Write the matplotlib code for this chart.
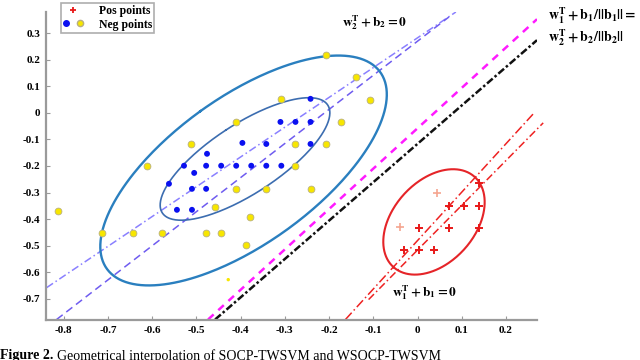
import numpy as np
import matplotlib
matplotlib.use("Agg")
import matplotlib.pyplot as plt
from matplotlib.lines import Line2D
from matplotlib.legend_handler import HandlerTuple

plt.rcParams['font.family'] = ['Liberation Serif', 'DejaVu Serif']
plt.rcParams['mathtext.fontset'] = 'stix'

# negative class (blue) points
neg_blue_x = [-0.242, -0.310, -0.276, -0.242, -0.396, -0.342, -0.242, -0.476,
              -0.528, -0.478, -0.444, -0.410, -0.376, -0.342, -0.308, -0.505,
              -0.562, -0.510, -0.478, -0.544, -0.510]
neg_blue_y = [0.053, -0.034, -0.034, -0.034, -0.113, -0.117, -0.117, -0.154,
              -0.199, -0.199, -0.199, -0.199, -0.199, -0.199, -0.199, -0.226,
              -0.267, -0.286, -0.286, -0.365, -0.365]

# negative class (yellow) points
neg_yel_x = [-0.208, -0.140, -0.108, -0.308, -0.174, -0.410, -0.208, -0.512,
             -0.276, -0.612, -0.276, -0.410, -0.342, -0.242, -0.458, -0.378,
             -0.814, -0.714, -0.644, -0.578, -0.478, -0.444, -0.387]
neg_yel_y = [0.218, 0.135, 0.049, 0.053, -0.034, -0.034, -0.117, -0.117,
             -0.117, -0.199, -0.199, -0.286, -0.286, -0.286, -0.353, -0.391,
             -0.368, -0.451, -0.451, -0.451, -0.451, -0.451, -0.496]
neg_small_x = [-0.428]
neg_small_y = [-0.628]

# positive class points
pos_x = [0.071, 0.105, 0.139, 0.139, 0.003, 0.071, 0.139, -0.031, 0.003, 0.037]
pos_y = [-0.350, -0.350, -0.350, -0.263, -0.432, -0.432, -0.432, -0.515, -0.515, -0.515]
pos_light_x = [0.044, -0.040]
pos_light_y = [-0.301, -0.429]

# ellipses: centre and two half-axis vectors
big_c, big_a, big_b = (-0.3934, -0.2169), (-0.0976, 0.2234), (-0.3088, -0.3708)
inner_c, inner_a, inner_b = (-0.3901, -0.1735), (-0.0431, 0.1090), (-0.1869, -0.2033)
red_c, red_a, red_b = (0.0371, -0.4106), (-0.0915, -0.1703), (-0.0690, 0.1019)

# hyperplanes (x0, y0, x1, y1)
blue_dashdot = (-0.8385, -0.658, 0.0866, 0.380)
blue_dashed = (-0.816, -0.778, 0.0707, 0.361)
magenta_line = (-0.4735, -0.778, 0.270, 0.353)
black_line = (-0.4576, -0.778, 0.270, 0.274)
red_line1 = (-0.163, -0.778, 0.2635, 0.0)
red_line2 = (-0.1107, -0.703, 0.284, -0.0376)

xticks = [-0.8, -0.7, -0.6, -0.5, -0.4, -0.3, -0.2, -0.1, 0, 0.1, 0.2]
yticks = [-0.7, -0.6, -0.5, -0.4, -0.3, -0.2, -0.1, 0, 0.1, 0.2, 0.3]


def ellipse(c, a, b):
    t = np.linspace(0, 2 * np.pi, 300)
    return c[0] + a[0] * np.cos(t) + b[0] * np.sin(t), c[1] + a[1] * np.cos(t) + b[1] * np.sin(t)


fig = plt.figure(figsize=(6.4, 3.6), dpi=100)
ax = fig.add_axes([46 / 640, 1 - 320 / 360, 491 / 640, 308 / 360])
ax.set_xlim(-0.84, 0.27)
ax.set_ylim(-0.78, 0.38)


def seg(l, **kw):
    ax.plot([l[0], l[2]], [l[1], l[3]], **kw)


seg(blue_dashdot, color='#8a80ff', lw=1.1, ls=(0, (5, 2, 1, 2)))
seg(blue_dashed, color='#6f5cf0', lw=1.1, ls=(0, (5, 3)))
seg(magenta_line, color='#ff1aff', lw=1.8, ls=(0, (3, 2.5)))
seg(black_line, color='#111111', lw=1.8, ls=(0, (3, 1, 1, 1)))
seg(red_line1, color='#ee2222', lw=1.1, ls=(0, (6, 2, 1, 2)))
seg(red_line2, color='#ee2222', lw=1.1, ls=(0, (5, 2, 1, 2)), clip_on=False)

ax.plot(*ellipse(big_c, big_a, big_b), color='#2a7fbf', lw=1.7)
ax.plot(*ellipse(inner_c, inner_a, inner_b), color='#3c6db0', lw=1.2)
ax.plot(*ellipse(red_c, red_a, red_b), color='#e52428', lw=1.5)

ax.scatter(neg_yel_x, neg_yel_y, s=24, c='#f7e600', edgecolors='#b8b080', linewidths=0.6, zorder=3)
ax.scatter(neg_small_x, neg_small_y, s=6, c='#f7e600', edgecolors='none', zorder=3)
ax.scatter(neg_blue_x, neg_blue_y, s=18, c='#0a10f0', edgecolors='none', zorder=3)
ax.scatter(pos_x, pos_y, s=30, marker='+', c='#e81818', linewidths=1.4, zorder=3)
ax.scatter(pos_light_x, pos_light_y, s=30, marker='+', c='#f5a590', linewidths=1.2, zorder=3)

for s in ['top', 'right']:
    ax.spines[s].set_visible(False)
for s in ['left', 'bottom']:
    ax.spines[s].set_color('#9a9a9a')
    ax.spines[s].set_linewidth(1.6)
ax.set_xticks(xticks)
ax.set_yticks(yticks)
ax.set_xticklabels(['0' if v == 0 else f'{v:g}' for v in xticks])
ax.set_yticklabels(['0' if v == 0 else f'{v:g}' for v in yticks])
ax.tick_params(direction='in', length=3, color='#9a9a9a', labelsize=8, pad=4)
for lab in ax.get_xticklabels() + ax.get_yticklabels():
    lab.set_fontweight('bold')

# annotations
fig.text(342 / 640, 1 - 23 / 360, r'$\mathbf{w_2^T + b_2 = 0}$', fontsize=9.5, va='center')
fig.text(548 / 640, 1 - 16 / 360, r'$\mathbf{w_1^T + b_1/||b_1|| =}$', fontsize=10, va='center')
fig.text(548 / 640, 1 - 38 / 360, r'$\mathbf{w_2^T + b_2/||b_2||}$', fontsize=10, va='center')
fig.text(392 / 640, 1 - 293 / 360, r'$\mathbf{w_1^T + b_1 = 0}$', fontsize=9.5, va='center')

# legend
h_pos = Line2D([], [], marker='+', color='#e81818', ls='none', markersize=5, mew=1.3)
h_nb = Line2D([], [], marker='o', color='#0a10f0', ls='none', markersize=4)
h_ny = Line2D([], [], marker='o', color='#f7e600', mec='#b8b080', ls='none', markersize=4.5)
leg = fig.legend([h_pos, (h_nb, h_ny)], ['Pos points', 'Neg points'],
                 handler_map={tuple: HandlerTuple(ndivide=None, pad=0.8)},
                 loc='upper left', bbox_to_anchor=(61 / 640, 1 - 3 / 360),
                 prop={'weight': 'bold', 'size': 8.5}, frameon=True, fancybox=False,
                 edgecolor='#9a9a9a', borderpad=0.2, handlelength=1.6, handletextpad=1.4,
                 labelspacing=0.1, borderaxespad=0)
leg.get_frame().set_linewidth(1.2)

# caption
fig.text(0.0, 1 - 349 / 360, 'Figure 2.', fontsize=10, fontweight='bold', va='top')
fig.text(57 / 640, 1 - 349 / 360, 'Geometrical interpolation of SOCP-TWSVM and WSOCP-TWSVM',
         fontsize=10, va='top')

fig.savefig('out.png', dpi=100)
